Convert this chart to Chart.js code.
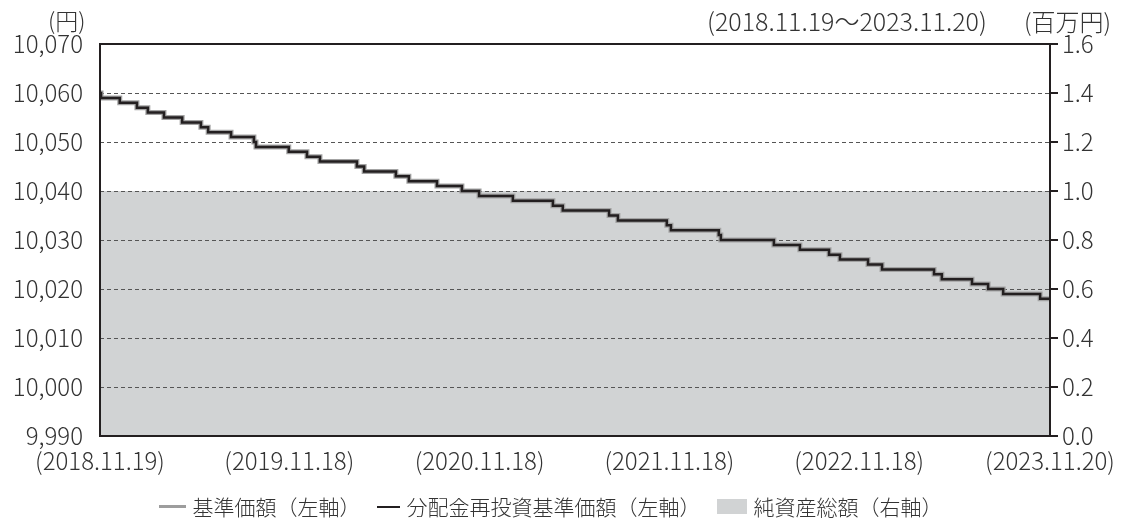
<!DOCTYPE html>
<html lang="ja">
<head>
<meta charset="UTF-8">
<title>基準価額・純資産総額の推移</title>
<script src="https://cdn.jsdelivr.net/npm/chart.js"></script>
<style>
  body { margin: 0; background: #fff; }
  #wrap { position: relative; width: 1121px; height: 519px; font-family: "Noto Sans CJK JP", "Noto Sans", sans-serif; font-weight: 300; color: #333; }
  canvas { position: absolute; left: 0; top: 0; }
  .note { position: absolute; font-size: 23px; line-height: 1; white-space: nowrap; }
  #legend { position: absolute; left: 0; width: 1121px; top: 496px; display: flex; justify-content: center; align-items: center; font-size: 21px; line-height: 1; white-space: nowrap; padding-right: 20px; box-sizing: border-box; }
  .item { display: flex; align-items: center; margin: 0 8px; }
  .swatch { display: inline-block; margin-right: 7px; }
</style>
</head>
<body>
<div id="wrap">
  <canvas id="navChart" width="1121" height="519"></canvas>
  <div class="note" style="left:48px; top:9px;">(円)</div>
  <div class="note" style="left:707px; top:9px; font-size:25px; top:8px;">(2018.11.19～2023.11.20)</div>
  <div class="note" style="left:1024px; top:9px; font-size:24px;">(百万円)</div>
  <div id="legend">
    <span class="item"><span class="swatch" style="width:27px;height:3px;background:#9d9d9d;"></span>基準価額（左軸）</span>
    <span class="item"><span class="swatch" style="width:23px;height:2px;background:#231f20;"></span>分配金再投資基準価額（左軸）</span>
    <span class="item"><span class="swatch" style="width:30px;height:15px;background:#d1d3d4;"></span>純資産総額（右軸）</span>
  </div>
</div>
<script>
  // dates where the NAV moves to a new level (yen), last entry closes the series
  const navDates = [
    '2018-11-19', '2018-11-21', '2018-12-27', '2019-01-29', '2019-02-19', '2019-03-22',
    '2019-04-26', '2019-06-01', '2019-06-15', '2019-07-29', '2019-09-11', '2019-09-15',
    '2019-11-17', '2019-12-22', '2020-01-16', '2020-03-27', '2020-04-10', '2020-06-10',
    '2020-07-05', '2020-08-28', '2020-10-15', '2020-11-17', '2021-01-21', '2021-04-08',
    '2021-04-27', '2021-07-25', '2021-08-11', '2021-11-13', '2021-11-21', '2022-02-21',
    '2022-02-25', '2022-06-07', '2022-07-27', '2022-09-21', '2022-10-12', '2022-12-05',
    '2023-01-01', '2023-04-11', '2023-04-26', '2023-06-23', '2023-07-24', '2023-08-22',
    '2023-11-01', '2023-11-20'
  ];
  const baseNav = [
    10060, 10059, 10058, 10057, 10056, 10055,
    10054, 10053, 10052, 10051, 10050, 10049,
    10048, 10047, 10046, 10045, 10044, 10043,
    10042, 10041, 10040, 10039, 10038, 10037,
    10036, 10035, 10034, 10033, 10032, 10031,
    10030, 10029, 10028, 10027, 10026, 10025,
    10024, 10023, 10022, 10021, 10020, 10019,
    10018, 10018
  ];
  // no distributions were paid, so the reinvested NAV is the same series
  const reinvestNav = baseNav;

  const assetDates = ['2018-11-19', '2019-11-18', '2020-11-18', '2021-11-18', '2022-11-18', '2023-11-20'];
  const netAssets = [1.0, 1.0, 1.0, 1.0, 1.0, 1.0]; // 百万円

  const xTickDates = ['2018-11-19', '2019-11-18', '2020-11-18', '2021-11-18', '2022-11-18', '2023-11-20'];
  const xTickLabels = ['(2018.11.19)', '(2019.11.18)', '(2020.11.18)', '(2021.11.18)', '(2022.11.18)', '(2023.11.20)'];
  const leftTicks = [9990, 10000, 10010, 10020, 10030, 10040, 10050, 10060, 10070];
  const rightTicks = [0, 0.2, 0.4, 0.6, 0.8, 1.0, 1.2, 1.4, 1.6];

  const start = Date.UTC(2018, 10, 19);
  function dayOf(s) {
    const p = s.split('-').map(Number);
    return Math.round((Date.UTC(p[0], p[1] - 1, p[2]) - start) / 86400000);
  }
  const toPoints = (dates, vals) => dates.map((d, i) => ({ x: dayOf(d), y: vals[i] }));

  const font = { family: '"Noto Sans CJK JP", "Noto Sans", sans-serif', size: 24, weight: 300 };
  const ink = '#231f20';

  // outer frame around the plot area
  const frame = {
    id: 'frame',
    afterDatasetsDraw(chart) {
      const a = chart.chartArea, c = chart.ctx;
      c.save();
      c.strokeStyle = ink;
      c.lineWidth = 2;
      c.strokeRect(a.left, a.top, a.right - a.left, a.bottom - a.top);
      c.restore();
    }
  };

  new Chart(document.getElementById('navChart'), {
    type: 'line',
    data: {
      datasets: [
        {
          label: '分配金再投資基準価額（左軸）',
          data: toPoints(navDates, reinvestNav),
          yAxisID: 'y',
          borderColor: ink,
          borderWidth: 2.5,
          stepped: true,
          pointRadius: 0,
          fill: false
        },
        {
          label: '基準価額（左軸）',
          data: toPoints(navDates, baseNav),
          yAxisID: 'y',
          borderColor: '#a3a3a3',
          borderWidth: 5,
          stepped: true,
          pointRadius: 0,
          fill: false
        },
        {
          label: '純資産総額（右軸）',
          data: toPoints(assetDates, netAssets),
          yAxisID: 'y1',
          backgroundColor: '#d1d3d4',
          borderWidth: 0,
          pointRadius: 0,
          fill: 'origin'
        }
      ]
    },
    options: {
      responsive: false,
      animation: false,
      layout: { padding: { top: 44, bottom: 43, left: 0, right: 0 } },
      plugins: {
        legend: { display: false },
        tooltip: { enabled: false },
        filler: { drawTime: 'beforeDraw' }
      },
      scales: {
        x: {
          type: 'linear',
          min: 0,
          max: dayOf(xTickDates[xTickDates.length - 1]),
          afterBuildTicks: s => { s.ticks = xTickDates.map(d => ({ value: dayOf(d) })); },
          afterFit: s => { s.height = 40; },
          grid: { display: false },
          border: { display: false },
          ticks: {
            autoSkip: false,
            maxRotation: 0,
            padding: 2,
            color: '#333',
            font,
            callback: (v, i) => xTickLabels[i]
          }
        },
        y: {
          position: 'left',
          min: 9990,
          max: 10070,
          afterBuildTicks: s => { s.ticks = leftTicks.map(v => ({ value: v })); },
          afterFit: s => { s.width = 100; },
          grid: { color: '#555', lineWidth: 1, drawTicks: false },
          border: { display: false, dash: [4, 3] },
          ticks: {
            padding: 17,
            color: '#333',
            font,
            callback: v => v.toLocaleString('en-US')
          }
        },
        y1: {
          position: 'right',
          min: 0,
          max: 1.6,
          afterBuildTicks: s => { s.ticks = rightTicks.map(v => ({ value: v })); },
          afterFit: s => { s.width = 71; },
          grid: { drawOnChartArea: false, drawTicks: true, tickLength: 8, tickColor: ink, lineWidth: 2 },
          border: { display: false },
          ticks: {
            padding: 4,
            color: '#333',
            font,
            callback: v => v.toFixed(1)
          }
        }
      }
    },
    plugins: [frame]
  });
</script>
</body>
</html>
